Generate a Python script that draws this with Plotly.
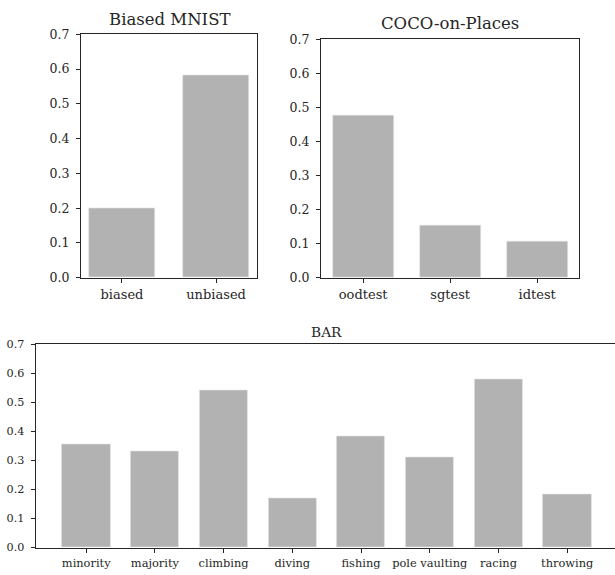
import plotly.graph_objects as go

W, H = 615, 575

mnist_cats = ["biased", "unbiased"]
mnist_vals = [0.200, 0.582]

coco_cats = ["oodtest", "sgtest", "idtest"]
coco_vals = [0.478, 0.155, 0.106]

bar_cats = ["minority", "majority", "climbing", "diving", "fishing",
            "pole vaulting", "racing", "throwing"]
bar_vals = [0.355, 0.330, 0.540, 0.170, 0.382, 0.312, 0.581, 0.183]

yticks = [0.0, 0.1, 0.2, 0.3, 0.4, 0.5, 0.6, 0.7]

BAR_COLOR = "#b2b2b2"
TXT = "#262626"
FONT = "DejaVu Serif"

fig = go.Figure()

def px_x(p):
    return p / W

def px_y(p):
    return 1 - p / H

panels = [
    (mnist_cats, mnist_vals, "x", "y"),
    (coco_cats, coco_vals, "x2", "y2"),
    (bar_cats, bar_vals, "x3", "y3"),
]
for cats, vals, xa, ya in panels:
    fig.add_trace(go.Bar(
        x=list(range(len(cats))), y=vals, width=0.7,
        marker=dict(color=BAR_COLOR, line=dict(color="#e4e4e4", width=0.6)),
        xaxis=xa, yaxis=ya, showlegend=False, hoverinfo="skip"))

def xaxis(domain, cats, rng, size, anchor, mirror=True):
    return dict(domain=domain, anchor=anchor, range=rng,
                tickmode="array", tickvals=list(range(len(cats))), ticktext=cats,
                ticks="outside", ticklen=4, tickwidth=1, tickcolor=TXT,
                ticklabelstandoff=1,
                showline=True, linecolor=TXT, linewidth=1.2, mirror=mirror,
                showgrid=False, zeroline=False,
                tickfont=dict(family=FONT, size=size, color=TXT))

def yaxis(domain, size, anchor, mirror=True):
    return dict(domain=domain, anchor=anchor, range=[0, 0.7],
                tickmode="array", tickvals=yticks,
                ticktext=[f"{v:.1f}" for v in yticks],
                ticks="outside", ticklen=4, tickwidth=1, tickcolor=TXT,
                ticklabelstandoff=4,
                showline=True, linecolor=TXT, linewidth=1.2, mirror=mirror,
                showgrid=False, zeroline=False,
                tickfont=dict(family=FONT, size=size, color=TXT))

fig.update_layout(
    width=W, height=H, margin=dict(l=0, r=0, t=0, b=0),
    plot_bgcolor="white", paper_bgcolor="white", bargap=0,
    xaxis=xaxis([px_x(81), px_x(257)], mnist_cats, [-0.435, 1.435], 13, "y"),
    yaxis=yaxis([px_y(277), px_y(27)], 12.5, "x"),
    xaxis2=xaxis([px_x(321), px_x(579.3)], coco_cats, [-0.485, 2.485], 13, "y2"),
    yaxis2=yaxis([px_y(277), px_y(32.3)], 12.5, "x2"),
    xaxis3=xaxis([px_x(35.7), 1.0], bar_cats, [-0.735, 7.696], 11.4, "y3"),
    yaxis3=yaxis([px_y(554), px_y(345.3)], 11.2, "x3", mirror=False),
)

titles = [
    ("Biased MNIST", 169, 12, 16.5),
    ("COCO-on-Places", 450, 15.5, 16.5),
    ("BAR", 326.7, 332.7, 13.8),
]
for t, x, y, s in titles:
    fig.add_annotation(text=t, x=px_x(x), y=px_y(y), xref="paper", yref="paper",
                       xanchor="center", yanchor="middle", showarrow=False,
                       font=dict(family=FONT, size=s, color=TXT))

post = (
    "var h=document.documentElement, b=document.body;"
    "h.style.margin='0';h.style.padding='0';h.style.overflow='hidden';"
    "b.style.margin='0';b.style.padding='0';b.style.overflow='hidden';"
)
fig.write_html("out.html", config={"displayModeBar": False}, post_script=post)
